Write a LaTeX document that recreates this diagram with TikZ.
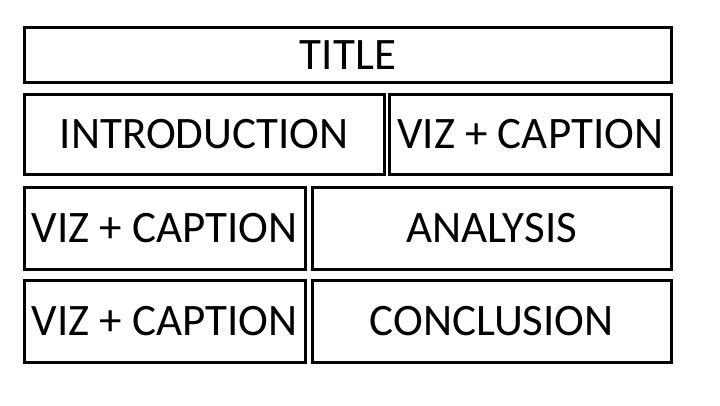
\documentclass[tikz,border=0pt]{standalone}
\usepackage{fontspec}
\setmainfont{Carlito}
\begin{document}
\begin{tikzpicture}[x=1pt,y=-1pt,
  panel/.style={draw=black, line width=3pt, rectangle, inner sep=0pt,
    font=\fontsize{45}{50}\selectfont},
]
\useasboundingbox (0,0) rectangle (720,405);
% layout panels: (left,top) to (right,bottom)
\newcommand\panelbox[6]{%
  \node[panel, minimum width={#4-#2}, minimum height={#5-#3}]
    (#1) at ({(#2+#4)/2},{(#3+#5)/2}) {#6};}
\panelbox{title}{24.5}{27.5}{671.5}{82.5}{TITLE}
\panelbox{intro}{24.5}{94.5}{384}{174.5}{INTRODUCTION}
\panelbox{vizA}{389}{94.5}{671.5}{174.5}{VIZ + CAPTION}
\panelbox{vizB}{24.5}{187}{305}{269}{VIZ + CAPTION}
\panelbox{analysis}{312}{187}{671.5}{269}{ANALYSIS}
\panelbox{vizC}{24.5}{280}{305}{362.5}{VIZ + CAPTION}
\panelbox{concl}{312}{280}{671.5}{362.5}{CONCLUSION}
\end{tikzpicture}
\end{document}
